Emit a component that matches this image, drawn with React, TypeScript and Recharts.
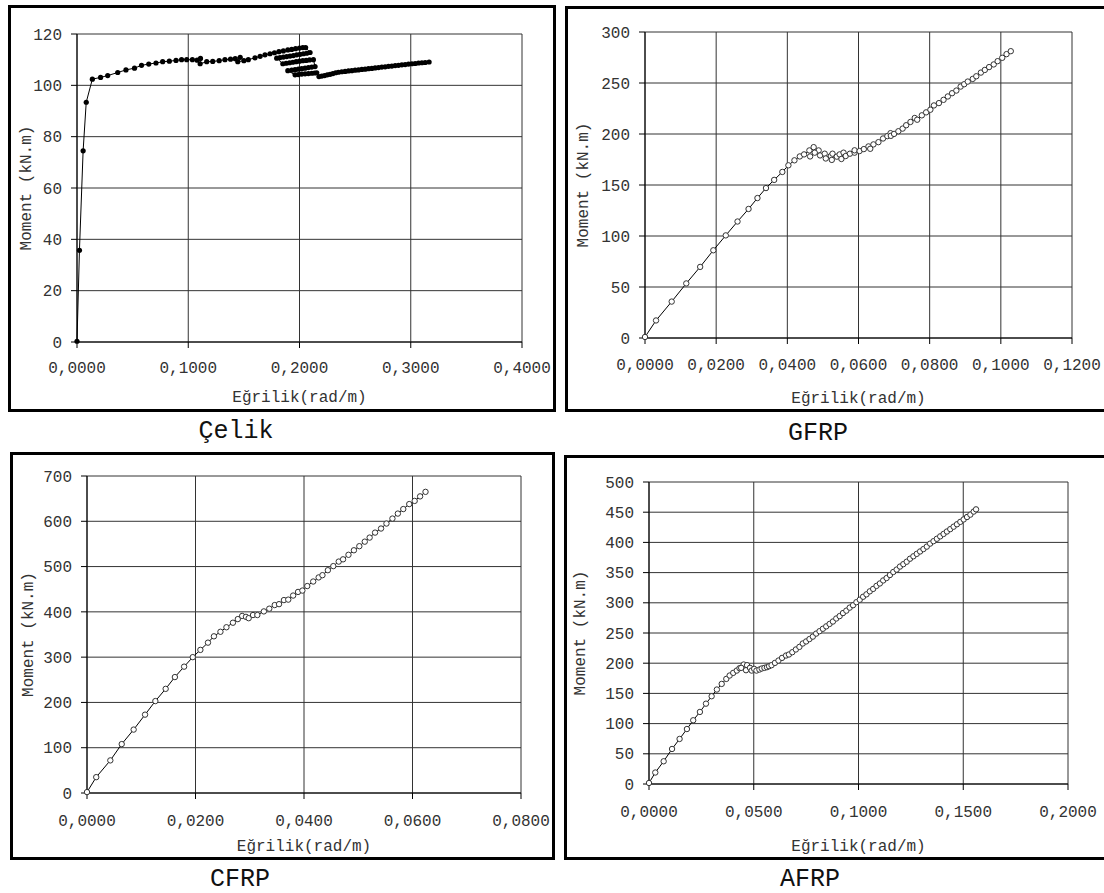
import React from 'react';
import { ScatterChart, Scatter, XAxis, YAxis, CartesianGrid } from 'recharts';

const FONT = "'Liberation Mono', 'Courier New', monospace";

// Çelik (steel) moment-curvature
const celikData = [
  [0, 0.3], [0.0022, 35.7], [0.0055, 74.5], [0.0083, 93.4], [0.0138, 102.4], [0.0212, 103.1],
  [0.0276, 103.8], [0.0366, 105], [0.044, 106], [0.0517, 106.7], [0.058, 107.8], [0.0645, 108.3],
  [0.071, 108.7], [0.077, 109.2], [0.083, 109.4], [0.089, 109.7], [0.094, 110], [0.0986, 110],
  [0.1037, 110], [0.108, 109.8], [0.111, 110.5], [0.1107, 108.4], [0.1166, 109.2], [0.122, 109.3],
  [0.1278, 109.6], [0.133, 110], [0.138, 110.2], [0.1422, 110.4], [0.1467, 110.9], [0.1445, 109.2],
  [0.15, 109.6], [0.154, 110], [0.16, 110.7], [0.1646, 111.3], [0.169, 111.9], [0.1735, 112.3],
  [0.1775, 112.7], [0.1815, 113.1], [0.1855, 113.4], [0.1895, 113.8], [0.193, 114], [0.1965, 114.3],
  [0.2, 114.5], [0.203, 114.7], [0.2055, 114.7],
  [0.2095, 112.8], [0.2065, 112.5], [0.2035, 112.3], [0.2005, 112.1], [0.1975, 111.9], [0.1945, 111.6],
  [0.1915, 111.4], [0.1885, 111.2], [0.1855, 111], [0.1825, 110.8], [0.1795, 110.6],
  [0.185, 108.4], [0.188, 108.6], [0.191, 108.8], [0.194, 109], [0.197, 109.2], [0.2, 109.4],
  [0.203, 109.6], [0.206, 109.7], [0.209, 109.9], [0.2125, 110],
  [0.214, 107.3], [0.211, 107.1], [0.208, 106.9], [0.205, 106.7], [0.202, 106.5], [0.199, 106.3],
  [0.196, 106.1], [0.193, 105.9], [0.1895, 105.7],
  [0.196, 104.1], [0.199, 104.2], [0.202, 104.4], [0.205, 104.5], [0.208, 104.6], [0.211, 104.7],
  [0.2135, 104.8], [0.2155, 104.9],
  [0.2175, 103.4], [0.22, 103.6], [0.2225, 103.8], [0.225, 104.1], [0.2275, 104.3], [0.23, 104.6],
  [0.2325, 104.9], [0.235, 105.1], [0.238, 105.3], [0.241, 105.4], [0.244, 105.6], [0.247, 105.7],
  [0.25, 105.9], [0.253, 106], [0.256, 106.2], [0.259, 106.3], [0.262, 106.5], [0.265, 106.6],
  [0.268, 106.8], [0.271, 106.9], [0.274, 107.1], [0.277, 107.2], [0.28, 107.4], [0.283, 107.5],
  [0.286, 107.7], [0.289, 107.8], [0.292, 108], [0.295, 108.1], [0.298, 108.3], [0.301, 108.4],
  [0.304, 108.5], [0.307, 108.7], [0.31, 108.8], [0.313, 108.9], [0.3165, 109.1],
];

const gfrpData = [
  [0, 1], [0.0031, 17.2], [0.0075, 35.7], [0.0116, 53.5], [0.0155, 69.7], [0.0192, 86],
  [0.0227, 100.6], [0.026, 114.2], [0.0291, 126.5], [0.0316, 137.2], [0.034, 147], [0.0363, 155],
  [0.0386, 162.8], [0.0403, 169.3], [0.042, 174.2], [0.0435, 178], [0.0447, 180], [0.0462, 183.9],
  [0.0474, 187.1], [0.0488, 183.9], [0.0464, 178], [0.0477, 181.7], [0.0492, 179], [0.0505, 180.7],
  [0.0508, 176], [0.0522, 178.4], [0.0525, 174.6], [0.0527, 180.7], [0.0539, 177.8], [0.0547, 180],
  [0.0552, 175.5], [0.0558, 181.7], [0.0564, 178.4], [0.0576, 180.7], [0.0589, 181.7], [0.0589, 184],
  [0.0603, 183.3], [0.0615, 185.2], [0.0628, 187.8], [0.0633, 185.5], [0.0642, 189.8], [0.0656, 192],
  [0.0669, 195.6], [0.0681, 197.9], [0.069, 200.8], [0.0691, 198.2], [0.07, 200.1], [0.0712, 202.7],
  [0.0724, 205.3], [0.0734, 208.6], [0.0746, 211.8], [0.0758, 215.7], [0.0765, 214], [0.0778, 218.3],
  [0.079, 221.2], [0.0802, 223.8], [0.0812, 228], [0.0826, 230.3], [0.0839, 233.5], [0.0851, 236.8],
  [0.0863, 240], [0.0875, 242.6], [0.0887, 246.5], [0.0897, 248.8], [0.0907, 251.4], [0.0921, 254],
  [0.0931, 256.6], [0.0944, 260.2], [0.0955, 262.8], [0.0967, 265.6], [0.098, 268.2], [0.0991, 271.4],
  [0.1004, 274.7], [0.1016, 278.3], [0.1028, 281.2],
];

const cfrpData = [
  [0, 2], [0.0017, 35], [0.0043, 72], [0.0064, 108], [0.0086, 140], [0.0107, 173], [0.0126, 203],
  [0.0145, 230], [0.0162, 256], [0.0179, 279], [0.0195, 300], [0.0209, 316], [0.0223, 332],
  [0.0234, 346], [0.0246, 356], [0.0257, 366], [0.0269, 376], [0.0278, 384], [0.0286, 391],
  [0.0293, 389], [0.0298, 386], [0.0306, 393], [0.0314, 393], [0.0326, 401], [0.0336, 407],
  [0.0346, 415], [0.0354, 417], [0.0363, 426], [0.0371, 427], [0.038, 436], [0.0389, 444],
  [0.0397, 447], [0.0406, 457], [0.0417, 467], [0.0427, 476], [0.0434, 481], [0.0444, 492],
  [0.0454, 501], [0.0464, 511], [0.0472, 516], [0.0482, 526], [0.0492, 536], [0.0502, 545],
  [0.0512, 555], [0.0521, 564], [0.0531, 575], [0.0542, 584], [0.0552, 595], [0.0563, 606],
  [0.0573, 617], [0.0583, 627], [0.0594, 638], [0.0604, 645], [0.0614, 655], [0.0624, 665],
];

const afrpData = [
  [0, 1.7], [0.003, 19], [0.007, 37.6], [0.011, 58], [0.0146, 74.6], [0.0181, 91], [0.0211, 105.5],
  [0.0243, 119.3], [0.0272, 133], [0.0299, 145.3], [0.0324, 156.4], [0.0347, 165.7], [0.0369, 174],
  [0.0385, 179.6], [0.0402, 184], [0.0419, 187.8], [0.0432, 191.7], [0.0452, 197.8], [0.044, 192.3],
  [0.0468, 196.7], [0.0463, 188.4], [0.0482, 192.3], [0.049, 187.8], [0.0502, 190.6], [0.0513, 187.8],
  [0.0527, 189.5], [0.0538, 191.2], [0.0551, 192.3], [0.0563, 193.4], [0.0573, 195], [0.0585, 196.7],
  [0.0601, 200.5], [0.0618, 204.4], [0.0635, 208.8], [0.0654, 212.7], [0.0668, 214.4], [0.0684, 218.2],
  [0.0701, 222.7], [0.0718, 227], [0.0734, 232.6], [0.075, 236], [0.0766, 240], [0.0782, 244],
  [0.0798, 249], [0.0814, 253], [0.083, 257], [0.0846, 261], [0.0862, 265], [0.0878, 269],
  [0.0894, 274], [0.091, 278], [0.0926, 283], [0.0942, 287], [0.0958, 292], [0.0974, 296],
  [0.099, 301], [0.1006, 305], [0.1022, 310], [0.1038, 314], [0.1054, 319], [0.107, 323],
  [0.1086, 328], [0.1102, 332], [0.1118, 337], [0.1134, 341], [0.115, 346], [0.1166, 351],
  [0.1182, 355], [0.1198, 360], [0.1214, 364], [0.123, 368], [0.1246, 373], [0.1262, 377],
  [0.1278, 381], [0.1294, 385], [0.131, 389], [0.1326, 393], [0.1342, 398], [0.1358, 402],
  [0.1374, 406], [0.139, 410], [0.1406, 414], [0.1422, 418], [0.1438, 422], [0.1454, 426],
  [0.147, 430], [0.1486, 434], [0.1502, 438], [0.1518, 442], [0.1534, 446], [0.155, 451],
  [0.1561, 454.7],
];

const celikXTicks = [0, 0.1, 0.2, 0.3, 0.4];
const celikYTicks = [0, 20, 40, 60, 80, 100, 120];
const gfrpXTicks = [0, 0.02, 0.04, 0.06, 0.08, 0.1, 0.12];
const gfrpYTicks = [0, 50, 100, 150, 200, 250, 300];
const cfrpXTicks = [0, 0.02, 0.04, 0.06, 0.08];
const cfrpYTicks = [0, 100, 200, 300, 400, 500, 600, 700];
const afrpXTicks = [0, 0.05, 0.1, 0.15, 0.2];
const afrpYTicks = [0, 50, 100, 150, 200, 250, 300, 350, 400, 450, 500];

const captions = ['Çelik', 'GFRP', 'CFRP', 'AFRP'];
const xTitle = 'Eğrilik(rad/m)';
const yTitle = 'Moment (kN.m)';

const toPoints = (rows: number[][]) => rows.map(([x, y]) => ({ x, y }));
const fmt4 = (v: number) => v.toFixed(4).replace('.', ',');

const solidDot = (p: any) => <circle cx={p.cx} cy={p.cy} r={2.6} fill="#000" />;
const openDot = (p: any) => (
  <circle cx={p.cx} cy={p.cy} r={2.7} fill="#fff" stroke="#333" strokeWidth={1} />
);

const panels = [
  {
    box: { left: 8, top: 5, width: 548, height: 407 },
    svg: { left: 11, top: 8, width: 541, height: 401 },
    margin: { top: 26, right: 30, left: 0, bottom: 0 },
    yW: 66, xH: 67, xTm: 14, yTm: 9, xOff: 7, yOff: 14,
    data: celikData, xTicks: celikXTicks, yTicks: celikYTicks, solid: true,
    cap: { x: 236, y: 432 },
  },
  {
    box: { left: 565, top: 6, width: 545, height: 406 },
    svg: { left: 568, top: 9, width: 540, height: 400 },
    margin: { top: 23, right: 36, left: 0, bottom: 0 },
    yW: 77, xH: 71, xTm: 15, yTm: 9, xOff: 6, yOff: 14,
    data: gfrpData, xTicks: gfrpXTicks, yTicks: gfrpYTicks, solid: false,
    cap: { x: 818, y: 434 },
  },
  {
    box: { left: 10, top: 452, width: 545, height: 408 },
    svg: { left: 13, top: 455, width: 538, height: 402 },
    margin: { top: 21, right: 30, left: 0, bottom: 0 },
    yW: 74, xH: 64, xTm: 16, yTm: 9, xOff: 6, yOff: 14,
    data: cfrpData, xTicks: cfrpXTicks, yTicks: cfrpYTicks, solid: false,
    cap: { x: 240, y: 880 },
  },
  {
    box: { left: 564, top: 455, width: 546, height: 405 },
    svg: { left: 567, top: 458, width: 537, height: 399 },
    margin: { top: 24, right: 36, left: 0, bottom: 0 },
    yW: 82, xH: 73, xTm: 16, yTm: 9, xOff: 6, yOff: 12,
    data: afrpData, xTicks: afrpXTicks, yTicks: afrpYTicks, solid: false,
    cap: { x: 810, y: 880 },
  },
];

const tickStyle = { fill: '#333', fontSize: 16, fontFamily: FONT };

export default function App() {
  return (
    <div style={{ position: 'fixed', left: 0, top: 0, width: 1104, height: 893, background: '#fff', overflow: 'hidden' }}>
      {panels.map((p, i) => {
        const xs = p.xTicks;
        const ys = p.yTicks;
        return (
          <React.Fragment key={i}>
            <div
              style={{
                position: 'absolute', ...p.box, border: '3px solid #000', boxSizing: 'border-box',
              }}
            />
            <div style={{ position: 'absolute', left: p.svg.left, top: p.svg.top }}>
              <ScatterChart width={p.svg.width} height={p.svg.height} margin={p.margin}>
                <CartesianGrid stroke="#333" strokeWidth={1} />
                <XAxis
                  type="number"
                  dataKey="x"
                  domain={[xs[0], xs[xs.length - 1]]}
                  ticks={xs}
                  interval={0}
                  tickFormatter={fmt4}
                  height={p.xH}
                  tick={tickStyle}
                  tickSize={6}
                  tickMargin={p.xTm}
                  stroke="#000"
                  label={{ value: xTitle, position: 'insideBottom', offset: p.xOff, fill: '#333', fontSize: 16, fontFamily: FONT }}
                />
                <YAxis
                  type="number"
                  dataKey="y"
                  domain={[ys[0], ys[ys.length - 1]]}
                  ticks={ys}
                  interval={0}
                  width={p.yW}
                  tick={tickStyle}
                  tickSize={6}
                  tickMargin={p.yTm}
                  stroke="#000"
                  label={{
                    value: yTitle, angle: -90, position: 'insideLeft', offset: p.yOff,
                    fill: '#333', fontSize: 16, fontFamily: FONT, style: { textAnchor: 'middle' },
                  }}
                />
                <Scatter
                  data={toPoints(p.data)}
                  line={{ stroke: '#000', strokeWidth: 1 }}
                  shape={p.solid ? solidDot : openDot}
                  isAnimationActive={false}
                />
              </ScatterChart>
            </div>
            <div
              style={{
                position: 'absolute', left: p.cap.x - 100, top: p.cap.y - 11, width: 200,
                textAlign: 'center', fontFamily: FONT, fontSize: 25, lineHeight: '22px', color: '#111',
              }}
            >
              {captions[i]}
            </div>
          </React.Fragment>
        );
      })}
    </div>
  );
}
